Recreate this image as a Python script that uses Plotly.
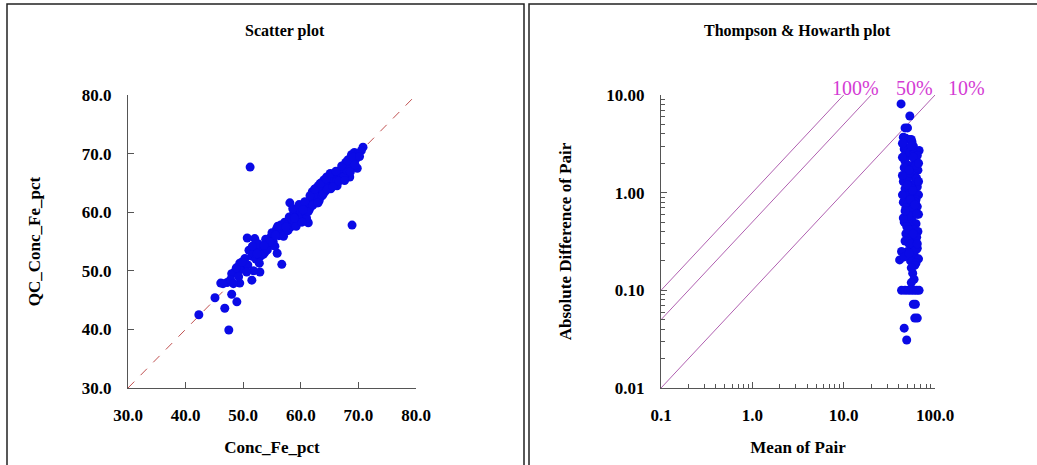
import plotly.graph_objects as go

# ---------------- Data ----------------
# Scatter plot: original vs QC assay (Fe %)
conc_fe = [51.2, 68.9, 42.3, 47.5, 45.1, 46.8, 48.9, 48.0, 51.5, 56.7, 46.1, 49.4, 52.9,
           50.7, 58.1, 61.3, 63.0, 70.8, 68.5, 49.4, 55.9,
           50.0, 49.5, 48.5, 48.0, 47.2, 46.5, 47.8, 48.8, 49.2, 50.3, 50.8, 51.5, 51.0,
           51.8, 52.2, 52.5, 53.0, 53.3, 52.8, 53.8, 54.0, 54.5, 54.8, 55.2, 55.0, 55.8,
           56.2, 56.5, 56.8, 57.2, 57.5, 57.8, 58.0, 58.3, 58.5, 58.8, 59.0, 59.3, 59.5,
           59.8, 60.0, 60.3, 60.5, 60.8, 61.0, 61.2, 61.5, 61.8, 62.0, 62.3, 62.5, 62.8,
           63.0, 63.2, 63.5, 63.8, 64.0, 64.2, 64.5, 64.8, 65.0, 65.2, 65.5, 65.8, 66.0,
           66.3, 66.5, 66.8, 67.0, 67.3, 67.5, 67.8, 68.0, 68.3, 68.5, 68.8, 69.0, 69.3,
           69.5, 69.8, 70.0, 70.5, 63.3, 64.3, 65.3, 66.2, 62.7, 61.8, 63.7, 52.0, 51.8,
           53.5, 54.2, 52.6, 51.6, 53.9, 55.5, 56.0, 57.0, 57.8, 58.6, 59.2, 59.7, 60.2,
           60.7, 61.3, 61.6, 62.1, 62.4, 62.9, 63.4, 63.9, 64.4, 64.6, 65.1, 65.6, 66.1,
           66.6, 67.1, 67.6, 68.1, 68.6, 69.1, 69.4, 70.2, 58.9, 60.4, 57.4, 55.6, 54.6,
           53.6, 52.4, 50.6, 49.8, 48.3]
qc_conc_fe = [67.7, 57.8, 42.5, 39.9, 45.4, 43.6, 44.7, 46.0, 48.4, 51.1, 47.9, 47.9, 49.8,
              55.6, 61.6, 58.2, 61.6, 71.1, 66.0, 51.3, 53.0,
              50.5, 50.2, 49.8, 49.5, 48.0, 47.8, 48.5, 50.5, 49.0, 52.1, 51.0, 52.5, 53.5,
              53.0, 52.0, 53.8, 52.5, 54.0, 51.3, 53.2, 55.0, 54.3, 55.8, 55.0, 56.5, 57.2,
              56.0, 57.8, 57.0, 58.3, 56.8, 58.0, 59.2, 57.5, 58.8, 60.0, 58.2, 59.5, 60.5,
              58.9, 60.2, 59.4, 61.0, 60.0, 59.0, 61.5, 60.5, 62.0, 63.5, 62.5, 64.0, 63.0,
              64.5, 62.0, 65.0, 64.0, 65.5, 63.5, 66.0, 64.8, 65.5, 64.0, 66.5, 65.0, 66.2,
              64.5, 67.0, 65.8, 66.5, 67.5, 66.0, 68.5, 67.2, 69.0, 68.0, 69.8, 68.5, 70.2,
              69.0, 67.5, 70.0, 70.5, 63.8, 64.8, 65.8, 65.3, 62.8, 61.0, 62.8, 55.5, 50.0,
              52.8, 53.6, 54.6, 54.2, 55.4, 54.2, 57.6, 55.9, 56.9, 60.6, 57.6, 61.3, 58.3,
              61.8, 60.1, 62.8, 61.2, 63.9, 61.6, 64.9, 63.1, 65.7, 63.9, 66.6, 64.4, 67.0,
              65.3, 67.9, 65.4, 68.8, 66.9, 69.4, 68.1, 69.5, 59.0, 60.4, 57.5, 56.1, 54.9,
              54.3, 52.9, 49.8, 51.5, 47.8]

# Thompson & Howarth plot: mean of pair vs absolute difference
mean_pair = [42.5, 53, 47, 50, 45, 48, 52, 56, 67, 58, 46, 50, 54, 60, 63, 47, 52, 57, 65,
             49, 55, 61, 45, 51, 58, 64, 47, 53, 60, 66, 49, 56, 62, 45, 51, 58, 64, 48,
             54, 60, 66, 50, 56, 46, 62, 53, 59, 65, 48, 55, 61, 47, 52, 58, 64, 50, 56,
             43, 41, 60, 66, 54, 62, 57, 59, 55, 43, 47, 51, 55, 59, 63, 67, 58, 61, 60,
             64, 46, 49, 48, 53, 59, 62, 50, 56, 46, 64, 55, 57, 52, 44, 61, 53, 49, 63, 45,
             55, 58, 61, 52, 63, 50, 57, 54, 60, 47, 63, 51, 58, 55, 62, 46, 52, 60, 55, 64,
             66, 66, 44, 44, 44]
abs_diff = [8.1, 6.1, 4.6, 4.6, 3.7, 3.6, 3.5, 3.3, 2.7, 3.0, 2.8, 2.5, 2.4, 2.2, 2.0, 2.1,
            1.9, 1.8, 1.7, 1.6, 1.5, 1.45, 1.3, 1.25, 1.2, 1.15, 1.1, 1.0, 0.98, 0.95, 0.92,
            0.9, 0.85, 0.8, 0.78, 0.75, 0.72, 0.7, 0.65, 0.62, 0.6, 0.55, 0.52, 0.5, 0.48,
            0.45, 0.42, 0.4, 0.38, 0.35, 0.33, 0.32, 0.3, 0.28, 0.27, 0.25, 0.24, 0.25, 0.205,
            0.22, 0.21, 0.2, 0.19, 0.15, 0.13, 0.12, 0.1, 0.1, 0.1, 0.1, 0.1, 0.1, 0.1, 0.072,
            0.072, 0.052, 0.052, 0.041, 0.031, 2.9, 2.6, 2.5, 1.3, 1.4, 1.1, 1.8, 2.4, 3.5,
            0.68, 0.58, 0.95, 0.8, 1.6, 0.45, 0.35, 0.55,
            3.0, 2.3, 1.9, 1.7, 1.4, 1.2, 1.05, 0.85, 0.75, 0.65, 0.6, 0.42, 0.38, 0.3, 0.26,
            0.22, 0.24, 0.18, 0.17, 0.3, 1.3, 2.0, 1.5, 2.3, 3.2]

# Precision reference lines (relative difference)
precision_labels = ["100%", "50%", "10%"]
precision_factors = [1.0, 0.5, 0.1]
line_x_start = [0.1, 0.09, 0.1]
line_x_end = [10.0, 20.0, 100.0]

diag_x = [30, 80]
diag_y = [30, 80]

left_ticks = [30, 40, 50, 60, 70, 80]
left_ticktext = ["30.0", "40.0", "50.0", "60.0", "70.0", "80.0"]
mean_ticks = [0.1, 1, 10, 100]
mean_ticktext = ["0.1", "1.0", "10.0", "100.0"]
diff_ticks = [0.01, 0.1, 1, 10]
diff_ticktext = ["0.01", "0.10", "1.00", "10.00"]

# ---------------- Styling ----------------
W, H = 1037, 465
FONT = "Liberation Serif"
BLUE = "#0a0ae6"
AXIS_COL = "#555555"
LINE_COL = "#b060b0"
LABEL_COL = "#d43cd4"


def px_x(p):
    return p / W


def px_y(p):
    return 1 - p / H


def bold(lst):
    return ["<b>%s</b>" % t for t in lst]


fig = go.Figure()

# Left: 1:1 reference line
fig.add_trace(go.Scatter(x=diag_x, y=diag_y, mode="lines",
                         line=dict(color="#c05050", width=1, dash="dash"),
                         xaxis="x", yaxis="y", hoverinfo="skip", showlegend=False))
fig.add_trace(go.Scatter(x=conc_fe, y=qc_conc_fe, mode="markers",
                         marker=dict(color=BLUE, size=9, line=dict(width=0)),
                         xaxis="x", yaxis="y", showlegend=False, cliponaxis=False))

# Right: precision lines
for lab, f, xs, xe in zip(precision_labels, precision_factors, line_x_start, line_x_end):
    fig.add_trace(go.Scatter(x=[xs, xe], y=[xs * f, xe * f], mode="lines",
                             line=dict(color=LINE_COL, width=1),
                             xaxis="x2", yaxis="y2", hoverinfo="skip",
                             showlegend=False, cliponaxis=False))
fig.add_trace(go.Scatter(x=mean_pair, y=abs_diff, mode="markers",
                         marker=dict(color=BLUE, size=9, line=dict(width=0)),
                         xaxis="x2", yaxis="y2", showlegend=False, cliponaxis=False))

tickfont = dict(family=FONT, size=17, color="black")
titlefont = dict(family=FONT, size=17, color="black")

ydom = [px_y(388), px_y(95)]

common = dict(showgrid=False, zeroline=False, showline=True, linecolor=AXIS_COL,
              linewidth=1, ticks="inside", ticklen=6, tickcolor=AXIS_COL,
              tickfont=tickfont, mirror=False, automargin=False)

fig.update_layout(
    width=W, height=H,
    margin=dict(l=0, r=0, t=0, b=0, autoexpand=False),
    paper_bgcolor="white", plot_bgcolor="white",
    font=dict(family=FONT),
    xaxis=dict(domain=[px_x(128), px_x(416)], range=[30, 80], tickvals=left_ticks,
               ticktext=bold(left_ticktext), anchor="y", ticklabelstandoff=12,
               title=dict(text="<b>Conc_Fe_pct</b>", font=titlefont, standoff=16), **common),
    yaxis=dict(domain=ydom, range=[30, 80], tickvals=left_ticks,
               ticktext=bold(left_ticktext), anchor="x", ticklabelstandoff=12,
               title=dict(text="<b>QC_Conc_Fe_pct</b>", font=titlefont, standoff=36), **common),
    xaxis2=dict(domain=[px_x(661), px_x(935)], type="log", range=[-1, 2],
                tickvals=mean_ticks, ticktext=bold(mean_ticktext), anchor="y2",
                ticklabelstandoff=12,
                minor=dict(ticks="inside", ticklen=4, tickcolor=AXIS_COL,
                           tickvals=[m * d for d in (0.1, 1, 10) for m in range(2, 10)]),
                title=dict(text="<b>Mean of Pair</b>", font=titlefont, standoff=16), **common),
    yaxis2=dict(domain=ydom, type="log", range=[-2, 1],
                tickvals=diff_ticks, ticktext=bold(diff_ticktext), anchor="x2",
                ticklabelstandoff=12,
                minor=dict(ticks="inside", ticklen=4, tickcolor=AXIS_COL,
                           tickvals=[m * d for d in (0.01, 0.1, 1) for m in range(2, 10)]),
                title=dict(text="<b>Absolute Difference of Pair</b>", font=titlefont, standoff=30), **common),
)

# Panel frames
fig.add_shape(type="rect", xref="paper", yref="paper", x0=px_x(7), x1=px_x(524),
              y0=px_y(470), y1=px_y(4), line=dict(color="#222222", width=1.5))
fig.add_shape(type="rect", xref="paper", yref="paper", x0=px_x(529), x1=px_x(1040),
              y0=px_y(470), y1=px_y(4), line=dict(color="#222222", width=1.5))

# Titles
fig.add_annotation(text="<b>Scatter plot</b>", xref="paper", yref="paper",
                   x=px_x(285), y=px_y(31), xanchor="center", yanchor="middle",
                   showarrow=False, font=dict(family=FONT, size=16, color="black"))
fig.add_annotation(text="<b>Thompson &amp; Howarth plot</b>", xref="paper", yref="paper",
                   x=px_x(797), y=px_y(31), xanchor="center", yanchor="middle",
                   showarrow=False, font=dict(family=FONT, size=16, color="black"))

# Precision labels
label_px = [855, 914, 966]
for lab, lx in zip(precision_labels, label_px):
    fig.add_annotation(text=lab, xref="paper", yref="paper", x=px_x(lx), y=px_y(88),
                       xanchor="center", yanchor="middle", showarrow=False,
                       font=dict(family=FONT, size=20, color=LABEL_COL))

fig.write_html("out.html", config={"displayModeBar": False},
               post_script="document.body.style.margin='0';document.body.style.overflow='hidden';")
